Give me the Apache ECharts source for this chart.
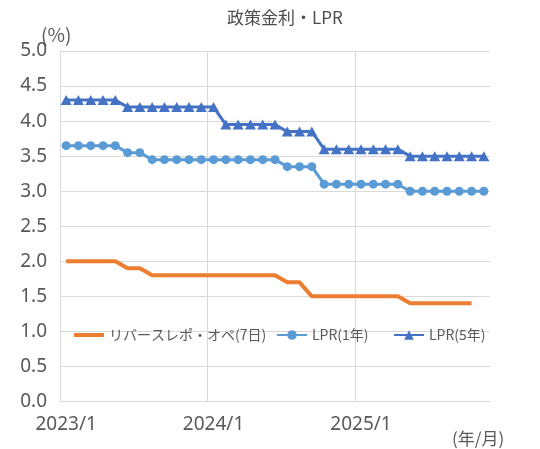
<!DOCTYPE html>
<html>
<head>
<meta charset="utf-8">
<script src="https://cdn.jsdelivr.net/npm/echarts@6/dist/echarts.min.js"></script>
<style>
html,body{margin:0;padding:0;background:#fff;}
#c{width:540px;height:449px;}
</style>
</head>
<body>
<div id="c"></div>
<script>
var months = ['2023/1','2023/2','2023/3','2023/4','2023/5','2023/6','2023/7','2023/8','2023/9','2023/10','2023/11','2023/12',
  '2024/1','2024/2','2024/3','2024/4','2024/5','2024/6','2024/7','2024/8','2024/9','2024/10','2024/11','2024/12',
  '2025/1','2025/2','2025/3','2025/4','2025/5','2025/6','2025/7','2025/8','2025/9','2025/10','2025/11'];
var repo7d = [2.0,2.0,2.0,2.0,2.0,1.9,1.9,1.8,1.8,1.8,1.8,1.8,
  1.8,1.8,1.8,1.8,1.8,1.8,1.7,1.7,1.5,1.5,1.5,1.5,
  1.5,1.5,1.5,1.5,1.4,1.4,1.4,1.4,1.4,1.4,null];
var lpr1y = [3.65,3.65,3.65,3.65,3.65,3.55,3.55,3.45,3.45,3.45,3.45,3.45,
  3.45,3.45,3.45,3.45,3.45,3.45,3.35,3.35,3.35,3.10,3.10,3.10,
  3.10,3.10,3.10,3.10,3.00,3.00,3.00,3.00,3.00,3.00,3.00];
var lpr5y = [4.30,4.30,4.30,4.30,4.30,4.20,4.20,4.20,4.20,4.20,4.20,4.20,
  4.20,3.95,3.95,3.95,3.95,3.95,3.85,3.85,3.85,3.60,3.60,3.60,
  3.60,3.60,3.60,3.60,3.50,3.50,3.50,3.50,3.50,3.50,3.50];
var seriesNames = ['リバースレポ・オペ(7日)','LPR(1年)','LPR(5年)'];
var titleText = '政策金利・LPR';
var yUnit = '(%)';
var xUnit = '(年/月)';

var gray = '#595959';
var gridColor = '#d9d9d9';
var cjk = '"Noto Sans CJK JP", "Noto Sans", sans-serif';
var legendText = {fontFamily: cjk, fontSize: 14, color: gray};

var chart = echarts.init(document.getElementById('c'), null, {renderer:'canvas'});
chart.setOption({
  animation: false,
  backgroundColor: '#fff',
  title: {
    text: titleText, left: 222, top: 4,
    textStyle: {fontFamily: cjk, fontSize: 17, fontWeight: 'normal', color: '#4d4d4d'}
  },
  graphic: [
    {type:'text', left: 41, top: 25, style:{text: yUnit, font: '19px ' + cjk, fill: gray}},
    {type:'text', left: 452, top: 430, style:{text: xUnit, font: '17px ' + cjk, fill: gray}}
  ],
  legend: [
    {data:[{name: seriesNames[0], icon: 'rect'}], left: 74, top: 328, padding: 0, itemWidth: 30, itemHeight: 4, textStyle: legendText},
    {data:[seriesNames[1]], left: 276, top: 328, padding: 0, itemWidth: 30, itemHeight: 12, textStyle: legendText},
    {data:[seriesNames[2]], left: 393, top: 328, padding: 0, itemWidth: 30, itemHeight: 12, textStyle: legendText}
  ],
  grid: {left: 60, right: 50, top: 51, bottom: 47.5, containLabel: false},
  xAxis: {
    type: 'category', data: months, boundaryGap: true,
    axisLine: {show: true, lineStyle: {color: gridColor, width: 1}},
    axisTick: {show: false},
    axisLabel: {interval: 11, margin: 14, fontFamily: '"Noto Sans", sans-serif', fontSize: 19, color: gray},
    splitLine: {show: true, interval: 11, showMinLine: true, showMaxLine: false, lineStyle: {color: gridColor, width: 1}}
  },
  yAxis: {
    type: 'value', min: 0, max: 5, interval: 0.5,
    axisLine: {show: true, lineStyle: {color: gridColor, width: 1}},
    axisTick: {show: false},
    axisLabel: {margin: 13, fontFamily: '"Noto Sans", sans-serif', fontSize: 19, color: gray,
      formatter: function(v){ return v.toFixed(1); }},
    splitLine: {show: true, lineStyle: {color: gridColor, width: 1}}
  },
  series: [
    {name: seriesNames[0], type: 'line', data: repo7d, showSymbol: false, symbol: 'none',
      color: '#ED7D31', itemStyle: {color: '#ED7D31'}, lineStyle: {width: 4, color: '#ED7D31'}, z: 3},
    {name: seriesNames[1], type: 'line', data: lpr1y, symbol: 'circle', symbolSize: 9, showAllSymbol: true,
      color: '#5B9BD5', itemStyle: {color: '#5B9BD5'}, lineStyle: {width: 3, color: '#5B9BD5'}, z: 4},
    {name: seriesNames[2], type: 'line', data: lpr5y, symbol: 'triangle', symbolSize: [11, 10], showAllSymbol: true,
      color: '#4472C4', itemStyle: {color: '#4472C4'}, lineStyle: {width: 3, color: '#4472C4'}, z: 5}
  ]
});
</script>
</body>
</html>
